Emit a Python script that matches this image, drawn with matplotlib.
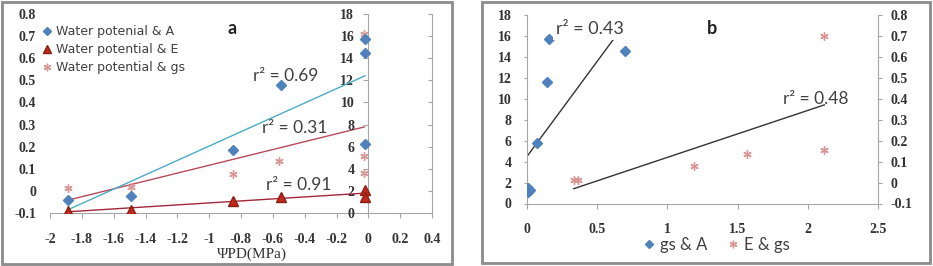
import numpy as np
import matplotlib
matplotlib.use("Agg")
import matplotlib.pyplot as plt
from matplotlib.patches import Rectangle
from matplotlib.lines import Line2D

plt.rcParams["axes.unicode_minus"] = False

# Panel a: pre-dawn water potential vs A, E (right axis) and gs (left axis)
psi_A = [-1.89, -1.49, -0.85, -0.55, -0.02, -0.02, -0.02]
A_a = [1.2, 1.5, 5.7, 11.6, 15.7, 14.5, 6.2]
psi_E = [-1.89, -1.49, -0.85, -0.55, -0.02, -0.02]
E_a = [0.2, 0.27, 1.1, 1.47, 2.08, 1.42]
psi_gs = [-1.89, -1.49, -0.85, -0.56, -0.025, -0.025, -0.025]
gs_a = [0.014, 0.016, 0.075, 0.137, 0.159, 0.082, 0.708]
r2_a = ["0.69", "0.31", "0.91"]
legend_a = ["Water potenial & A", "Water potential & E", "Water potential & gs"]

# Panel b: gs vs A (left axis), E vs gs (right axis)
gs_b = [0.005, 0.01, 0.02, 0.074, 0.139, 0.158, 0.70]
A_b = [1.08, 1.5, 1.33, 5.74, 11.6, 15.7, 14.6]
E_b = [0.332, 0.361, 1.186, 1.564, 2.118, 2.118]
gs_e = [0.013, 0.013, 0.078, 0.137, 0.157, 0.70]
r2_b = ["0.43", "0.48"]
legend_b = ["gs & A", "E & gs"]

W, H = 933, 266
GRID = "#a6a6a6"
TXT = "#404040"
TICKFONT = {"family": "Liberation Serif", "weight": "bold", "size": 10}
SANS = "Lato"


def fx(px):
    return px / W


def fy(py):
    return 1 - py / H


def fmt(v):
    return f"{v + 0.0:g}" if abs(v) > 1e-9 else "0"


def trend(ax, x, y, color):
    k, b = np.polyfit(x, y, 1)
    xs = np.array([min(x), max(x)])
    ax.plot(xs, k * xs + b, color=color, lw=1, zorder=2)


def style_ticks(ax):
    for lab in ax.get_xticklabels() + ax.get_yticklabels():
        lab.set_fontfamily(TICKFONT["family"])
        lab.set_fontweight(TICKFONT["weight"])
        lab.set_fontsize(TICKFONT["size"])
        lab.set_color("#333333")


fig = plt.figure(figsize=(W / 100, H / 100), dpi=100)

for x0, y0, x1, y1 in [(2, 2, 452, 264), (482, 2, 930, 263)]:
    fig.patches.append(Rectangle((fx(x0), fy(y1)), fx(x1) - fx(x0), fy(y0) - fy(y1),
                                 transform=fig.transFigure, fill=False,
                                 ec="#8c8c8c", lw=2))

# ---------------- panel a ----------------
ax = fig.add_axes([fx(50), fy(213), fx(432) - fx(50), fy(14) - fy(213)])
ax2 = ax.twinx()
ax.set_xlim(-2, 0.4)
ax.set_ylim(-0.1, 0.8)
ax2.set_ylim(0, 18)
xt = np.round(np.arange(-2, 0.41, 0.2), 1)
ax.set_xticks(xt)
ax.set_xticklabels([fmt(v) for v in xt])
yt = np.round(np.arange(-0.1, 0.81, 0.1), 1)
ax.set_yticks(yt)
ax.set_yticklabels([fmt(v) for v in yt])
ax2.set_yticks(range(0, 19, 2))

for s in ["left", "top"]:
    ax.spines[s].set_visible(False)
for s in ["right", "bottom"]:
    ax.spines[s].set_color(GRID)
for s in ["right", "top", "bottom"]:
    ax2.spines[s].set_visible(False)
ax2.spines["left"].set_position(("data", 0))
ax2.spines["left"].set_color(GRID)

ax.tick_params(axis="y", left=False, right=True, labelleft=True, labelright=False,
               direction="in", length=3, color=GRID, pad=10)
ax.tick_params(axis="x", direction="out", length=3.6, color=GRID, pad=10.5)
ax2.tick_params(axis="y", left=True, right=False, labelleft=True, labelright=False,
                direction="out", length=3.6, color=GRID, pad=6.5)
style_ticks(ax)
style_ticks(ax2)

trend(ax2, psi_A, A_a, "#4bacc6")
trend(ax2, psi_E, E_a, "#a3263a")
trend(ax, psi_gs, gs_a, "#b84a5a")
ax.plot(psi_gs, gs_a, ls="", marker=(6, 2, 0), ms=6, mew=1, color="#d99694", zorder=3)
ax2.plot(psi_A, A_a, ls="", marker="D", ms=5.5, color="#4f81bd", zorder=3)
ax2.plot(psi_E, E_a, ls="", marker="^", ms=7, mfc="#c0281c", mec="#8b1e12", zorder=3)

fig.text(fx(252), fy(254), "ΨPD(MPa)", ha="center", va="center",
         family="Liberation Serif", size=11, color="#333333")
fig.text(fx(227), fy(29), "a", ha="left", va="center", family=SANS,
         weight="bold", size=13, color="#222222")
for (xl, yl), txt in zip([(253, 76), (262, 128), (266, 185)], r2_a):
    fig.text(fx(xl), fy(yl), "r² = " + txt, ha="left", va="center",
             family=SANS, size=12.5, color=TXT)

h_a = [Line2D([], [], ls="", marker="D", ms=4.5, color="#4f81bd"),
       Line2D([], [], ls="", marker="^", ms=5.5, mfc="#c0281c", mec="#8b1e12"),
       Line2D([], [], ls="", marker=(6, 2, 0), ms=5.5, mew=1, color="#d99694")]
leg = ax2.legend(h_a, legend_a, loc="upper left", bbox_to_anchor=(fx(43), fy(25)),
                 bbox_transform=fig.transFigure, frameon=False, handlelength=0.6,
                 handletextpad=0.4, borderaxespad=0, borderpad=0, labelspacing=0.42,
                 prop={"family": "DejaVu Sans", "size": 9})
for t in leg.get_texts():
    t.set_color(TXT)

# ---------------- panel b ----------------
bx = fig.add_axes([fx(527), fy(203.5), fx(878) - fx(527), fy(15) - fy(203.5)])
bx2 = bx.twinx()
bx.set_xlim(0, 2.5)
bx.set_ylim(0, 18)
bx2.set_ylim(-0.1, 0.8)
xt = np.round(np.arange(0, 2.51, 0.5), 1)
bx.set_xticks(xt)
bx.set_xticklabels([fmt(v) for v in xt])
bx.set_yticks(range(0, 19, 2))
bx2.set_yticks(yt)
bx2.set_yticklabels([fmt(v) for v in yt])

for s in ["top", "right"]:
    bx.spines[s].set_visible(False)
for s in ["left", "bottom"]:
    bx.spines[s].set_color(GRID)
for s in ["top", "left", "bottom"]:
    bx2.spines[s].set_visible(False)
bx2.spines["right"].set_color(GRID)

bx.tick_params(axis="y", direction="out", length=2.5, color=GRID, pad=8.5)
bx.tick_params(axis="x", direction="out", length=3.6, color=GRID, pad=10.5)
bx2.tick_params(axis="y", direction="out", length=3, color=GRID, pad=6)
style_ticks(bx)
style_ticks(bx2)

trend(bx, gs_b, A_b, "#333333")
trend(bx2, E_b, gs_e, "#333333")
bx.plot(gs_b, A_b, ls="", marker="D", ms=5.5, color="#4f81bd", zorder=3)
bx2.plot(E_b, gs_e, ls="", marker=(6, 2, 0), ms=6, mew=1, color="#d99694", zorder=3)

fig.text(fx(707), fy(29), "b", ha="left", va="center", family=SANS,
         weight="bold", size=13, color="#222222")
fig.text(fx(556), fy(29), "r² = " + r2_b[0], ha="left", va="center", family=SANS,
         size=13, color=TXT, zorder=5,
         bbox=dict(boxstyle="square,pad=0.15", fc="white", ec="none"))
fig.text(fx(783), fy(99), "r² = " + r2_b[1], ha="left", va="center", family=SANS,
         size=12.5, color=TXT)

h_b = [Line2D([], [], ls="", marker="D", ms=4.5, color="#4f81bd"),
       Line2D([], [], ls="", marker=(6, 2, 0), ms=5.5, mew=1, color="#d99694")]
leg_b = bx.legend(h_b, legend_b, loc="center", bbox_to_anchor=(fx(717), fy(245)),
                  bbox_transform=fig.transFigure, frameon=False, ncol=2,
                  handlelength=0.6, handletextpad=0.4, columnspacing=1.2,
                  borderaxespad=0, borderpad=0, prop={"family": SANS, "size": 12})
for t in leg_b.get_texts():
    t.set_color(TXT)

fig.savefig("out.png", dpi=100)
